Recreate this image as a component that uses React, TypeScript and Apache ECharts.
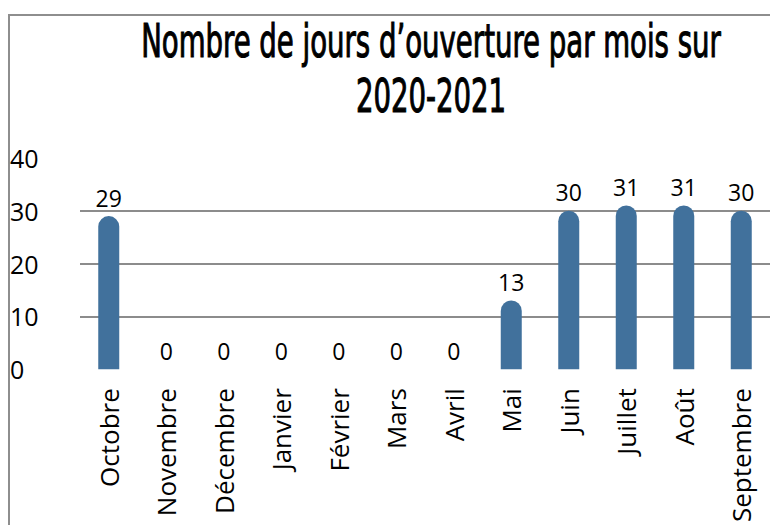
import React, { useEffect, useRef } from "react";
import * as echarts from "echarts";

const months = [
  "Octobre", "Novembre", "Décembre", "Janvier", "Février", "Mars",
  "Avril", "Mai", "Juin", "Juillet", "Août", "Septembre",
];
const openDays = [29, 0, 0, 0, 0, 0, 0, 13, 30, 31, 31, 30];
const titleLines = ["Nombre de jours d’ouverture par mois sur", "2020-2021"];
const yMin = 0;
const yMax = 40;
const yStep = 10;

const TITLE_FONT = "'DejaVu Sans Condensed', 'DejaVu Sans', sans-serif";
const TITLE_SIZE = 47;
const TITLE_WEIGHT = "normal";
const TITLE_TARGET_WIDTH = 580;

function titleScale(): number {
  try {
    const c = document.createElement("canvas");
    const ctx = c.getContext("2d");
    if (!ctx) return 0.66;
    ctx.font = `${TITLE_WEIGHT} ${TITLE_SIZE}px ${TITLE_FONT}`;
    const w = ctx.measureText(titleLines[0]).width;
    return w > 0 ? TITLE_TARGET_WIDTH / w : 0.66;
  } catch (e) {
    return 0.66;
  }
}

export default function App() {
  const ref = useRef<HTMLDivElement>(null);
  useEffect(() => {
    document.body.style.margin = "0";
    if (!ref.current) return;
    const chart = echarts.init(ref.current, null, { renderer: "svg" });
    const font = "'Open Sans', 'Noto Sans', sans-serif";
    const sx = titleScale();
    const titleText = (text: string, y: number) => ({
      type: "text",
      x: 431,
      y,
      scaleX: sx,
      style: {
        text,
        fontFamily: TITLE_FONT,
        fontSize: TITLE_SIZE,
        fontWeight: TITLE_WEIGHT,
        fill: "#000000",
        stroke: "#000000",
        lineWidth: 1.1,
        textAlign: "center",
        textVerticalAlign: "middle",
      },
    });
    chart.setOption({
      animation: false,
      backgroundColor: "#ffffff",
      graphic: [
        {
          type: "rect",
          shape: { x: 9, y: 15, width: 900, height: 700 },
          style: { fill: "none", stroke: "#8e8e8e", lineWidth: 2 },
          silent: true,
        },
        titleText(titleLines[0], 40),
        titleText(titleLines[1], 95),
      ],
      grid: { left: 80, top: 158, width: 703, height: 215, containLabel: false },
      xAxis: {
        type: "category",
        data: months,
        axisLine: { show: false },
        axisTick: { show: false },
        axisLabel: {
          interval: 0,
          rotate: 90,
          margin: 19,
          fontSize: 26,
          fontFamily: font,
          color: "#000000",
        },
      },
      yAxis: {
        type: "value",
        min: yMin,
        max: yMax,
        interval: yStep,
        axisLine: { show: false },
        axisTick: { show: false },
        axisLabel: {
          align: "left",
          margin: 70,
          fontSize: 25,
          fontFamily: font,
          color: "#000000",
        },
        splitLine: {
          show: true,
          showMinLine: false,
          showMaxLine: false,
          lineStyle: { color: "#8c8c8c", width: 2 },
        },
      },
      series: [
        {
          type: "bar",
          data: openDays,
          barWidth: 21,
          itemStyle: { color: "#41719c", borderRadius: [10.5, 10.5, 0, 0] },
          label: {
            show: true,
            position: "top",
            distance: 7,
            fontSize: 23,
            fontFamily: font,
            color: "#000000",
          },
        },
      ],
    });
    return () => chart.dispose();
  }, []);
  return <div ref={ref} style={{ width: 770, height: 525 }} />;
}
